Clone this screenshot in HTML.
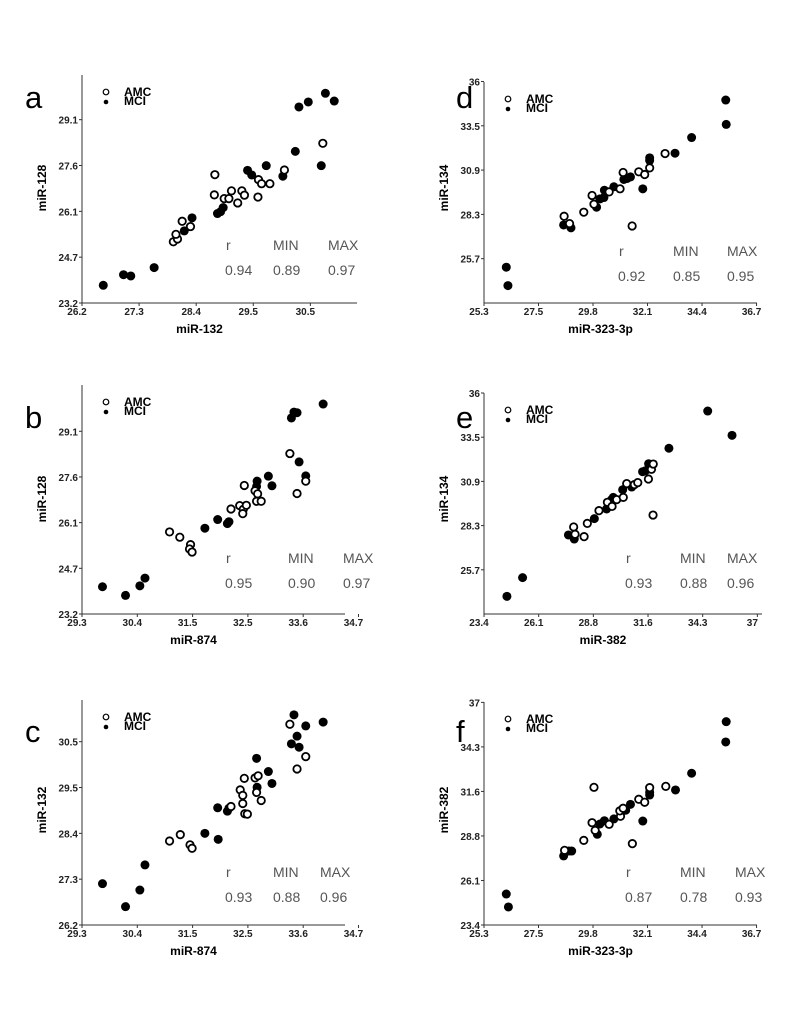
<!DOCTYPE html>
<html><head><meta charset="utf-8"><style>
body{margin:0;background:#fff;}
svg{display:block;font-family:"Liberation Sans",Arial,sans-serif;}
</style></head><body>
<svg id="fig" width="800" height="1035" viewBox="0 0 800 1035"></svg>
<script>
// ---- panel a ----
const aMciX=[26.61,27.00,27.14,27.59,28.17,28.32,28.81,28.87,28.92,29.39,29.47,29.75,30.07,30.31,30.38,30.56,30.89,31.06,30.81];
const aMciY=[23.77,24.11,24.07,24.34,25.52,25.94,26.08,26.14,26.27,27.47,27.32,27.62,27.28,28.08,29.51,29.67,29.95,29.70,27.62];
const aAmcX=[27.96,28.04,28.01,28.13,28.29,28.76,28.75,28.94,29.03,29.08,29.20,29.28,29.33,29.60,29.66,29.59,29.82,30.10,30.84];
const aAmcY=[25.17,25.26,25.41,25.83,25.66,27.33,26.68,26.56,26.56,26.81,26.42,26.81,26.67,27.17,27.04,26.61,27.04,27.48,28.34];
const aXTicks=["26.2","27.3","28.4","29.5","30.5"];
const aYTicks=["23.2","24.7","26.1","27.6","29.1"];
const aStats=["0.94","0.89","0.97"];
// ---- panel b ----
const bMciX=[29.70,30.15,30.43,30.53,31.70,31.95,32.14,32.17,32.72,32.71,32.94,33.01,33.39,33.44,33.50,33.54,33.67,34.01];
const bMciY=[24.08,23.80,24.11,24.36,25.97,26.25,26.12,26.18,27.49,27.32,27.65,27.34,29.53,29.72,29.70,28.11,27.66,29.98];
const bAmcX=[31.01,31.21,31.42,31.40,31.45,32.21,32.38,32.45,32.44,32.51,32.47,32.68,32.73,32.71,32.80,33.36,33.50,33.67];
const bAmcY=[25.85,25.68,25.44,25.30,25.20,26.59,26.70,26.58,26.44,26.71,27.35,27.18,27.08,26.84,26.84,28.38,27.09,27.49];
const bXTicks=["29.3","30.4","31.5","32.5","33.6","34.7"];
const bYTicks=["23.2","24.7","26.1","27.6","29.1"];
const bStats=["0.95","0.90","0.97"];
// ---- panel c ----
const cMciX=[29.70,30.15,30.43,30.53,31.70,31.95,31.96,32.14,32.17,32.71,32.72,32.94,33.01,33.39,33.44,33.50,33.54,33.67,34.01];
const cMciY=[27.17,26.63,27.02,27.61,28.35,28.95,28.21,28.87,28.94,30.11,29.43,29.80,29.52,30.45,31.13,30.63,30.37,30.87,30.96];
const cAmcX=[31.01,31.22,31.41,31.45,32.21,32.39,32.44,32.44,32.47,32.48,32.53,32.68,32.74,32.71,32.80,33.36,33.50,33.67];
const cAmcY=[28.17,28.32,28.08,28.00,28.98,29.37,29.24,29.05,29.64,28.81,28.80,29.65,29.70,29.31,29.12,30.91,29.86,30.15];
const cXTicks=["29.3","30.4","31.5","32.5","33.6","34.7"];
const cYTicks=["26.2","27.3","28.4","29.5","30.5"];
const cStats=["0.93","0.88","0.96"];
// ---- panel d ----
const dMciX=[26.24,26.31,28.66,28.97,30.05,30.19,30.36,30.38,30.78,31.20,31.34,31.48,32.00,32.29,32.29,33.36,34.06,35.50,35.52];
const dMciY=[25.20,24.12,27.68,27.51,28.72,29.21,29.29,29.72,29.92,30.35,30.41,30.50,29.80,31.46,31.62,31.89,32.81,35.01,33.58];
const dAmcX=[28.68,28.91,29.51,29.86,29.94,30.58,31.04,31.17,31.55,31.83,32.08,32.29,32.94];
const dAmcY=[28.19,27.76,28.43,29.41,28.90,29.62,29.80,30.76,27.62,30.80,30.64,31.03,31.87];
const dXTicks=["25.3","27.5","29.8","32.1","34.4","36.7"];
const dYTicks=["25.7","28.3","30.9","33.5","36"];
const dStats=["0.92","0.85","0.95"];
// ---- panel e ----
const eMciX=[24.54,25.32,27.60,27.89,28.89,29.50,29.75,29.83,30.30,30.75,31.29,31.43,31.59,32.60,34.53,35.74];
const eMciY=[24.14,25.24,27.75,27.51,28.71,29.28,29.83,29.96,30.41,30.57,31.47,31.53,31.94,32.85,35.04,33.61];
const eAmcX=[27.86,27.93,28.38,28.54,29.12,29.54,29.77,30.00,30.33,30.50,30.88,31.05,31.58,31.73,31.82,31.81];
const eAmcY=[28.22,27.79,27.65,28.43,29.18,29.67,29.43,29.83,29.96,30.77,30.71,30.83,31.04,31.61,31.92,28.92];
const eXTicks=["23.4","26.1","28.8","31.6","34.3","37"];
const eYTicks=["25.7","28.3","30.9","33.5","36"];
const eStats=["0.93","0.88","0.96"];
// ---- panel f ----
const fMciX=[26.24,26.33,28.66,28.88,29.00,30.08,30.19,30.38,30.78,31.28,31.48,32.00,32.29,32.29,33.38,34.06,35.50,35.52];
const fMciY=[25.29,24.50,27.62,27.92,27.92,28.94,29.57,29.77,29.88,30.41,30.77,29.75,31.34,31.51,31.65,32.67,34.58,35.82];
const fAmcX=[28.70,29.51,29.86,29.94,29.99,30.58,31.06,31.03,31.17,31.56,31.83,32.08,32.29,32.97];
const fAmcY=[27.96,28.57,29.65,31.81,29.18,29.55,30.04,30.37,30.53,28.37,31.08,30.90,31.79,31.87];
const fXTicks=["25.3","27.5","29.8","32.1","34.4","36.7"];
const fYTicks=["23.4","26.1","28.8","31.6","34.3","37"];
const fStats=["0.87","0.78","0.93"];

const NS="http://www.w3.org/2000/svg";
const svg=document.getElementById('fig');
function mk(tag,attrs,parent,text){const e=document.createElementNS(NS,tag);for(const k in attrs)e.setAttribute(k,attrs[k]);if(text!==undefined)e.textContent=text;(parent||svg).appendChild(e);return e;}

function panel(cfg){
  const g=mk('g',{});
  
  
  const sx=v=>cfg.ox+(v-cfg.x0)*cfg.kx;
  const sy=v=>cfg.oy-(v-cfg.y0)*cfg.ky;
  const letter=mk('text',{x:cfg.lx,y:cfg.ly,'font-size':31,fill:'#000'},g,cfg.id);
  
  
  const ax=mk('path',{d:`M${cfg.ox},${cfg.top}V${cfg.oy}H${cfg.right}`,stroke:'#333','stroke-width':1,fill:'none'},g);
  
  
  cfg.xt.forEach((t,i)=>{const x=sx(cfg.x0+i*cfg.xs);
    mk('line',{x1:x,y1:cfg.oy,x2:x,y2:cfg.oy+3,stroke:'#333'},g);
    const tl=mk('text',{x:x-5,y:cfg.oy+12,'font-size':10,'font-weight':'bold','text-anchor':'middle',fill:'#222'},g,t);
    
    
  });
  cfg.yt.forEach((t,i)=>{const y=sy(cfg.y0+cfg.yoff+i*cfg.ys);
    mk('line',{x1:cfg.ox-3,y1:y,x2:cfg.ox,y2:y,stroke:'#333'},g);
    const tl=mk('text',{x:cfg.ox-4,y:y+4,'font-size':10,'font-weight':'bold','text-anchor':'end',fill:'#222'},g,t);
    
    
  });
  const xt=mk('text',{x:(cfg.ox+cfg.right)/2-20,y:cfg.oy+30,'font-size':12,'font-weight':'bold','text-anchor':'middle'},g,cfg.xlab);
  
  
  const yc=cfg.oy-115;
  const yt=mk('text',{x:cfg.ox-36,y:yc,'font-size':12,'font-weight':'bold','text-anchor':'middle',transform:`rotate(-90 ${cfg.ox-36} ${yc})`},g,cfg.ylab);
  
  
  // legend
  const ly=cfg.top+17;
  const l1=mk('circle',{cx:cfg.ox+24,cy:ly,r:2.8,fill:'#fff',stroke:'#000','stroke-width':1.2},g);
  
  
  const l2=mk('circle',{cx:cfg.ox+24,cy:ly+10,r:2.3,fill:'#000'},g);
  
  
  const t1=mk('text',{x:cfg.ox+42,y:ly+4,'font-size':12,'font-weight':'bold'},g,'AMC');
  
  
  const t2=mk('text',{x:cfg.ox+42,y:ly+13,'font-size':12,'font-weight':'bold'},g,'MCI');
  
  
  // stats
  const hdr=['r','MIN','MAX'];
  hdr.forEach((h,i)=>{
    const t=mk('text',{x:cfg.sx[i],y:cfg.sy,'font-size':14,fill:'#555'},g,h);
    
    
    const v=mk('text',{x:cfg.sx[i]+(i==0?-1:0),y:cfg.sy+25,'font-size':14,fill:'#555'},g,cfg.stats[i]);
    
    
  });
  cfg.mx.forEach((v,i)=>{
    const c=mk('circle',{cx:sx(v),cy:sy(cfg.my[i]),r:4.5,fill:'#000'},g);
    
    
  });
  cfg.ax.forEach((v,i)=>{
    const c=mk('circle',{cx:sx(v),cy:sy(cfg.ay[i]),r:3.7,fill:'#fff',stroke:'#000','stroke-width':1.8},g);
    
    
  });
}
panel({id:'a',lx:25,ly:108,ox:82,oy:303,top:75,right:357,x0:26.2,kx:51.9,xs:1.1,y0:23.2,ky:31.07,ys:1.475,yoff:0,
  xt:aXTicks,yt:aYTicks,xlab:'miR-132',ylab:'miR-128',sx:[226,273,328],sy:250,stats:aStats,mx:aMciX,my:aMciY,ax:aAmcX,ay:aAmcY});
panel({id:'b',lx:25,ly:428,ox:82,oy:614,top:385,right:345,x0:29.3,kx:51.2,xs:1.08,y0:23.2,ky:30.97,ys:1.475,yoff:0,
  xt:bXTicks,yt:bYTicks,xlab:'miR-874',ylab:'miR-128',sx:[226,288,343],sy:563,stats:bStats,mx:bMciX,my:bMciY,ax:bAmcX,ay:bAmcY});
panel({id:'c',lx:25,ly:742,ox:82,oy:925,top:700,right:345,x0:29.3,kx:51.2,xs:1.08,y0:26.2,ky:42.63,ys:1.075,yoff:0,
  xt:cXTicks,yt:cYTicks,xlab:'miR-874',ylab:'miR-132',sx:[226,273,320],sy:877,stats:cStats,mx:cMciX,my:cMciY,ax:cAmcX,ay:cAmcY});
panel({id:'d',lx:456,ly:108,ox:484,oy:303,top:82,right:757,x0:25.3,kx:23.7,xs:2.3,y0:23.1,ky:17.04,ys:2.6,yoff:2.6,
  xt:dXTicks,yt:dYTicks,xlab:'miR-323-3p',ylab:'miR-134',sx:[619,673,727],sy:256,stats:dStats,mx:dMciX,my:dMciY,ax:dAmcX,ay:dAmcY});
panel({id:'e',lx:456,ly:428,ox:484,oy:614,top:393,right:762,x0:23.4,kx:20.1,xs:2.72,y0:23.1,ky:17.0,ys:2.6,yoff:2.6,
  xt:eXTicks,yt:eYTicks,xlab:'miR-382',ylab:'miR-134',sx:[626,680,727],sy:563,stats:eStats,mx:eMciX,my:eMciY,ax:eAmcX,ay:eAmcY});
panel({id:'f',lx:456,ly:742,ox:484,oy:925,top:702,right:757,x0:25.3,kx:23.7,xs:2.3,y0:23.4,ky:16.37,ys:2.72,yoff:0,
  xt:fXTicks,yt:fYTicks,xlab:'miR-323-3p',ylab:'miR-382',sx:[626,680,735],sy:877,stats:fStats,mx:fMciX,my:fMciY,ax:fAmcX,ay:fAmcY});
</script>
</body></html>
